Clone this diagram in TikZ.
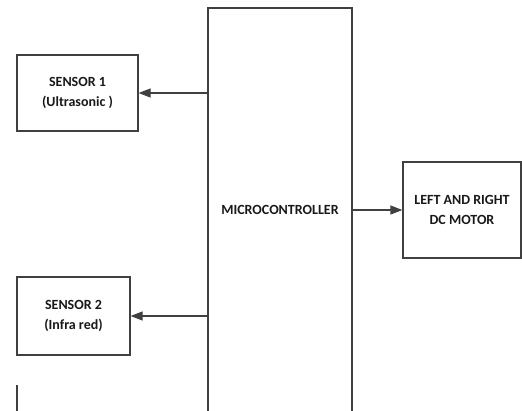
\documentclass[tikz,border=0pt]{standalone}
\usepackage{fontspec}
\setmainfont{Carlito}
\usetikzlibrary{arrows.meta}
\begin{document}
\begin{tikzpicture}[x=1pt,y=1pt,
  blk/.style={draw=black!75, line width=1.2pt, fill=white, inner sep=0pt, align=center,
    font=\bfseries\fontsize{14}{20}\selectfont, text=black!90},
  arr/.style={draw=black!75, line width=1.2pt, -{Triangle[length=12pt,width=9pt]}}]
\useasboundingbox (0,0) rectangle (522,-410);
\node[blk, minimum width=121pt, minimum height=76pt] (s1) at (77.5,-93) {SENSOR 1\\(Ultrasonic )};
\node[blk, minimum width=113pt, minimum height=78pt] (s2) at (73.5,-316) {SENSOR 2\\(Infra red)};
\node[blk, minimum width=144pt, minimum height=404pt] (mc) at (280,-210) {MICROCONTROLLER};
\node[blk, minimum width=118pt, minimum height=96pt] (mot) at (462,-210) {LEFT AND RIGHT\\DC MOTOR};
\draw[arr] (mc.west |- s1.east) -- (s1.east);
\draw[arr] (mc.west |- s2.east) -- (s2.east);
\draw[arr] (mc.east |- mot.west) -- (mot.west);
\coordinate (v1) at (17,-385);
\coordinate (v2) at (17,-412);
\draw[draw=black!75, line width=1.2pt] (v1) -- (v2);
\end{tikzpicture}
\end{document}
